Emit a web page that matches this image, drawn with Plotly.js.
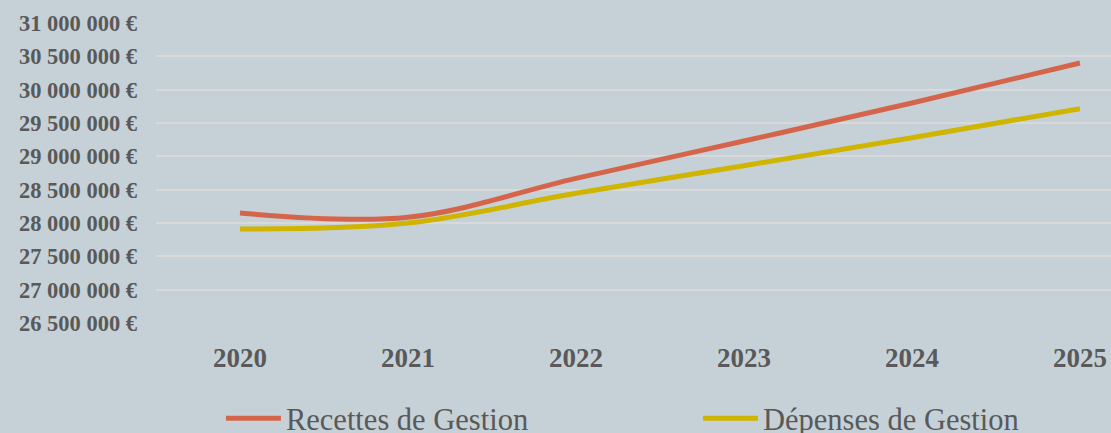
<!DOCTYPE html>
<html>
<head>
<meta charset="utf-8">
<script src="https://cdn.plot.ly/plotly-3.0.1.min.js"></script>
<style>html,body{margin:0;padding:0;background:#C6D1D7;}#chart{width:1111px;height:433px;}</style>
</head>
<body>
<div id="chart"></div>
<script>
const years = [2020, 2021, 2022, 2023, 2024, 2025];
const recettes = [28150000, 28085000, 28670000, 29230000, 29800000, 30400000];
const depenses = [27910000, 28000000, 28445000, 28860000, 29280000, 29715000];
const seriesNames = ["Recettes de Gestion", "Dépenses de Gestion"];

const serif = "'Liberation Serif', 'DejaVu Serif', serif";
const txt = "#595959";

const traces = [
  {x: years, y: recettes, name: seriesNames[0], type: "scatter", mode: "lines", legend: "legend",
   line: {color: "#D5654A", width: 5, shape: "spline", smoothing: 1}},
  {x: years, y: depenses, name: seriesNames[1], type: "scatter", mode: "lines", legend: "legend2",
   line: {color: "#CFB500", width: 5, shape: "spline", smoothing: 1}}
];

const legendBase = {orientation: "h", xanchor: "left", y: -0.318, yanchor: "middle",
  font: {family: serif, size: 30.5, color: txt}, itemwidth: 55, bgcolor: "rgba(0,0,0,0)"};

const layout = {
  width: 1111, height: 433,
  paper_bgcolor: "#C6D1D7", plot_bgcolor: "#C6D1D7",
  margin: {l: 156, r: 0, t: 23, b: 110, autoexpand: false},
  separators: ", ",
  showlegend: true,
  legend: Object.assign({}, legendBase, {x: 0.068}),
  legend2: Object.assign({}, legendBase, {x: 0.5675}),
  xaxis: {range: [2019.5, 2025.185], tickvals: years, ticktext: years.map(String),
    showgrid: false, zeroline: false, showline: false, ticks: "",
    ticklabelstandoff: 16, automargin: false,
    tickfont: {family: serif, size: 27, color: txt, weight: "bold"}},
  yaxis: {range: [26500000, 31000000], dtick: 500000, tick0: 26500000,
    tickformat: ",d", ticksuffix: " €", automargin: false,
    showgrid: true, gridcolor: "#D9D9D9", gridwidth: 2, zeroline: false, showline: false,
    ticks: "", ticklabelstandoff: 18,
    tickfont: {family: serif, size: 22.5, color: txt, weight: "bold"}}
};

Plotly.newPlot("chart", traces, layout, {displayModeBar: false, staticPlot: true});
</script>
</body>
</html>
